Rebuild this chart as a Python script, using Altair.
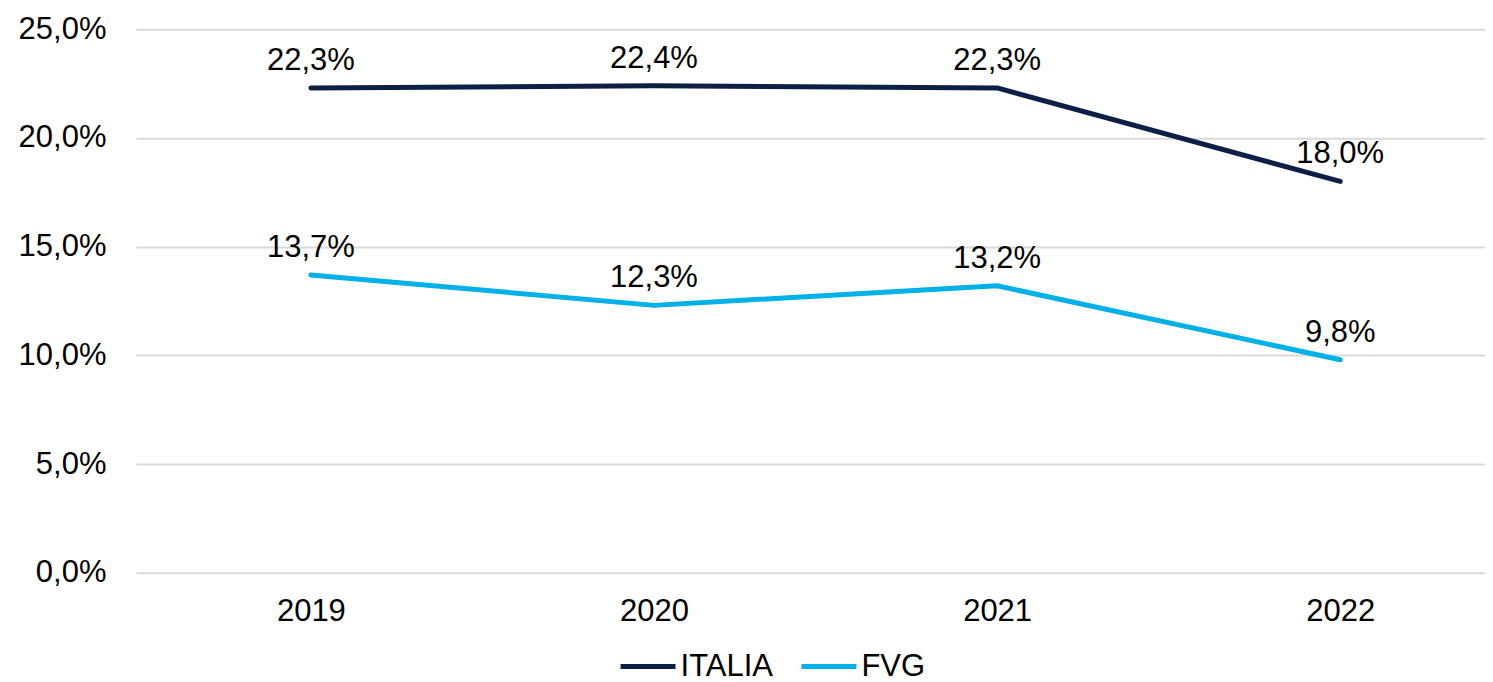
import altair as alt
import pandas as pd

years = [2019, 2020, 2021, 2022]
italia = [22.3, 22.4, 22.3, 18.0]
fvg = [13.7, 12.3, 13.2, 9.8]
series = ["ITALIA", "FVG"]
colors = ["#0C1F45", "#00B0E8"]

rows = []
for s, vals in zip(series, [italia, fvg]):
    for y, v in zip(years, vals):
        rows.append({"anno": y, "serie": s, "valore": v})
df = pd.DataFrame(rows)

FONT = "Liberation Sans"
FS = 31

base = alt.Chart(df).encode(
    x=alt.X("anno:Q", title=None,
            scale=alt.Scale(domain=[2018.49, 2022.422], nice=False, zero=False),
            axis=alt.Axis(values=years, format="d", labelAngle=0, domain=False, ticks=False,
                          labelPadding=24, labelFontSize=FS, labelFont=FONT,
                          labelColor="#000000", grid=False, labelFlush=False)),
    y=alt.Y("valore:Q", title=None,
            scale=alt.Scale(domain=[0, 25], nice=False),
            axis=alt.Axis(values=[0, 5, 10, 15, 20, 25], domain=False, ticks=False,
                          labelPadding=30, labelFontSize=FS, labelFont=FONT, labelColor="#000000",
                          labelExpr="replace(format(datum.value, '.1f'), '.', ',') + '%'",
                          grid=True, gridColor="#D9D9D9", gridWidth=2)),
    color=alt.Color("serie:N", sort=series,
                    scale=alt.Scale(domain=series, range=colors),
                    legend=alt.Legend(title=None, orient="none", direction="horizontal",
                                      legendX=497, legendY=622,
                                      symbolType="M-2.5,0H2.5",
                                      symbolStrokeWidth=5, symbolSize=484,
                                      labelFontSize=FS, labelFont=FONT, labelColor="#000000",
                                      labelOffset=17, columnPadding=18, padding=0)),
)

lines = base.mark_line(strokeWidth=5, strokeCap="round", strokeJoin="round")

labels = base.mark_text(baseline="bottom", dy=-11, fontSize=FS, font=FONT, color="#000000").encode(
    text="lbl:N", color=alt.value("#000000")
).transform_calculate(lbl="replace(format(datum.valore, '.1f'), '.', ',') + '%'")

chart = alt.layer(lines, labels).properties(
    width=1350, height=544,
    padding={"left": 10, "top": 5, "right": 0, "bottom": 0},
).configure_view(stroke=None)

chart.save("out.html", embed_options={"renderer": "svg", "actions": False})
